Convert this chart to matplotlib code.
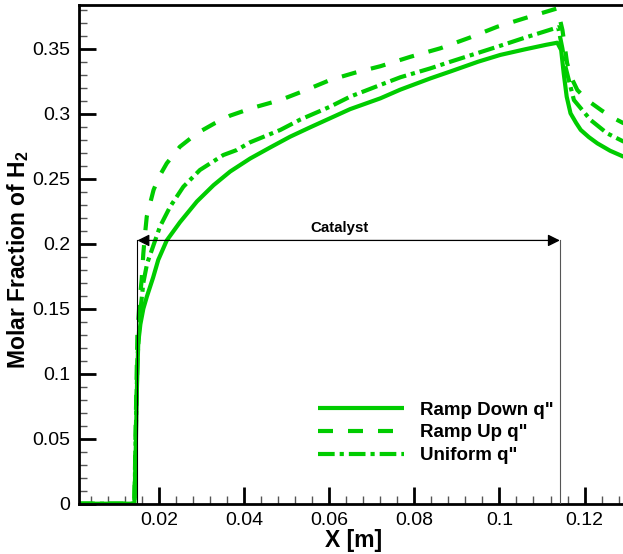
import matplotlib
matplotlib.use("Agg")
import matplotlib.pyplot as plt
from matplotlib.ticker import MultipleLocator, FixedLocator

plt.rcParams['font.family'] = ['Liberation Sans', 'DejaVu Sans']

# ---- data ----
x_down = [0.001, 0.0142, 0.0145, 0.0148, 0.0151, 0.0156, 0.0163, 0.0171, 0.0186, 0.0198,
          0.0218, 0.0249, 0.0289, 0.0328, 0.0367, 0.0414, 0.0461, 0.0508, 0.0555, 0.0602,
          0.0649, 0.0720, 0.0767, 0.0838, 0.0885, 0.0950, 0.1002, 0.1060, 0.1110, 0.1136,
          0.1145, 0.1151, 0.1158, 0.1167, 0.1180, 0.1191, 0.1210, 0.1230, 0.1260, 0.1292]
y_down = [0.0, 0.0, 0.04, 0.09, 0.1236, 0.138, 0.150, 0.159, 0.174, 0.1875,
          0.2025, 0.2165, 0.2325, 0.2450, 0.2555, 0.2655, 0.2740, 0.2823, 0.2895, 0.2965,
          0.3035, 0.3118, 0.3185, 0.3272, 0.3325, 0.3400, 0.3452, 0.3495, 0.3530, 0.3546,
          0.349, 0.3311, 0.3131, 0.3003, 0.2930, 0.2875, 0.2820, 0.2772, 0.2715, 0.2669]

x_up = [0.001, 0.0142, 0.0145, 0.0149, 0.0154, 0.0159, 0.0163, 0.0167, 0.0171, 0.0187,
        0.0200, 0.0218, 0.0249, 0.0289, 0.0330, 0.0367, 0.0420, 0.0485, 0.0540, 0.0602,
        0.0660, 0.0720, 0.0791, 0.0861, 0.0930, 0.0995, 0.1060, 0.1136,
        0.1148, 0.1159, 0.1170, 0.1183, 0.1206, 0.1240, 0.1269, 0.1292]
y_up = [0.0, 0.0, 0.06, 0.13, 0.155, 0.172, 0.1926, 0.2075, 0.2208, 0.2413,
        0.2515, 0.2618, 0.2746, 0.2849, 0.2925, 0.2985, 0.3045, 0.3105, 0.3175, 0.3259,
        0.3315, 0.3365, 0.3438, 0.3503, 0.3585, 0.3669, 0.3735, 0.3810,
        0.3644, 0.3388, 0.3270, 0.3182, 0.3105, 0.3025, 0.2965, 0.2926]

x_uni = [0.001, 0.0142, 0.0145, 0.0149, 0.0155, 0.0163, 0.0172, 0.0183, 0.0202, 0.0226,
         0.0257, 0.0296, 0.0351, 0.0383, 0.0414, 0.0485, 0.0532, 0.0602, 0.0649, 0.0720,
         0.0767, 0.0838, 0.0885, 0.0995, 0.1060, 0.1138,
         0.1148, 0.1155, 0.1175, 0.1214, 0.1253, 0.1292]
y_uni = [0.0, 0.0, 0.05, 0.11, 0.145, 0.170, 0.185, 0.1952, 0.2131, 0.2285,
         0.2438, 0.2567, 0.2682, 0.2721, 0.2780, 0.2875, 0.2955, 0.3054, 0.3131, 0.3221,
         0.3280, 0.3349, 0.3400, 0.3515, 0.3585, 0.3665,
         0.3500, 0.3362, 0.3105, 0.2952, 0.2849, 0.2785]

labels = ['Ramp Down q"', 'Ramp Up q"', 'Uniform q"']
catalyst_start = 0.0149
catalyst_end = 0.1142
catalyst_y = 0.2025

x_major = [0.02, 0.04, 0.06, 0.08, 0.1, 0.12]
x_labels = ['0.02', '0.04', '0.06', '0.08', '0.1', '0.12']
y_major = [0, 0.05, 0.1, 0.15, 0.2, 0.25, 0.3, 0.35]
y_labels = ['0', '0.05', '0.1', '0.15', '0.2', '0.25', '0.3', '0.35']

green = '#00cc00'

fig = plt.figure(figsize=(6.23, 5.54), dpi=100)
ax = fig.add_axes([78.5/623, 1 - 503.7/554, (623 - 78.5)/623 + 0.01, (503.7 - 5)/554])

lw = 3.0
ax.plot(x_down, y_down, color=green, lw=lw, label=labels[0],
        solid_joinstyle='round', solid_capstyle='butt')
ax.plot(x_up, y_up, color=green, lw=lw, linestyle=(0, (3.6, 3.6)), label=labels[1],
        dash_joinstyle='round')
ax.plot(x_uni, y_uni, color=green, lw=lw, linestyle=(0, (4.0, 1.2, 1.0, 1.2)), label=labels[2],
        dash_joinstyle='round')

# catalyst annotation
ax.plot([catalyst_start, catalyst_start], [0, catalyst_y], color='black', lw=0.8, zorder=5)
ax.plot([catalyst_end, catalyst_end], [0, catalyst_y], color='#555555', lw=0.8, zorder=5)
ax.annotate('', xy=(catalyst_start, catalyst_y), xytext=(catalyst_end, catalyst_y),
            arrowprops=dict(arrowstyle='<|-|>', color='#777777', lw=0.9,
                            mutation_scale=18, shrinkA=0, shrinkB=0,
                            fc='black', ec='black'), zorder=6)
ax.text(0.0624, catalyst_y + 0.004, 'Catalyst',
        ha='center', va='bottom', fontsize=10.8, fontweight='bold')

ax.set_xlim(0.00106, 0.1292 + 0.0013)
ax.set_ylim(0, 0.3836)

ax.xaxis.set_major_locator(FixedLocator(x_major))
ax.set_xticklabels(x_labels)
ax.yaxis.set_major_locator(FixedLocator(y_major))
ax.set_yticklabels(y_labels)
ax.xaxis.set_minor_locator(MultipleLocator(0.004))
ax.yaxis.set_minor_locator(MultipleLocator(0.01))

ax.tick_params(which='major', direction='in', length=12, width=2, labelsize=14,
               top=False, right=False, pad=6)
ax.tick_params(which='minor', direction='in', length=6, width=1, color='#555555',
               top=False, right=False)

for s in ['left', 'bottom', 'top']:
    ax.spines[s].set_linewidth(2)
ax.spines['right'].set_visible(False)

ax.set_xlabel('X [m]', fontsize=16.5, fontweight='bold', labelpad=0)
ax.set_ylabel('Molar Fraction of H$_\\mathregular{2}$', fontsize=16.5, fontweight='bold')
ax.yaxis.set_label_coords(-0.086, 0.49)

leg = ax.legend(loc='upper left', bbox_to_anchor=(0.434, 0.205), frameon=False,
                fontsize=13.5, handlelength=4.6, handletextpad=0.85, labelspacing=0.3,
                borderpad=0, borderaxespad=0)
for t in leg.get_texts():
    t.set_fontweight('bold')

fig.savefig('out.png', dpi=100)
